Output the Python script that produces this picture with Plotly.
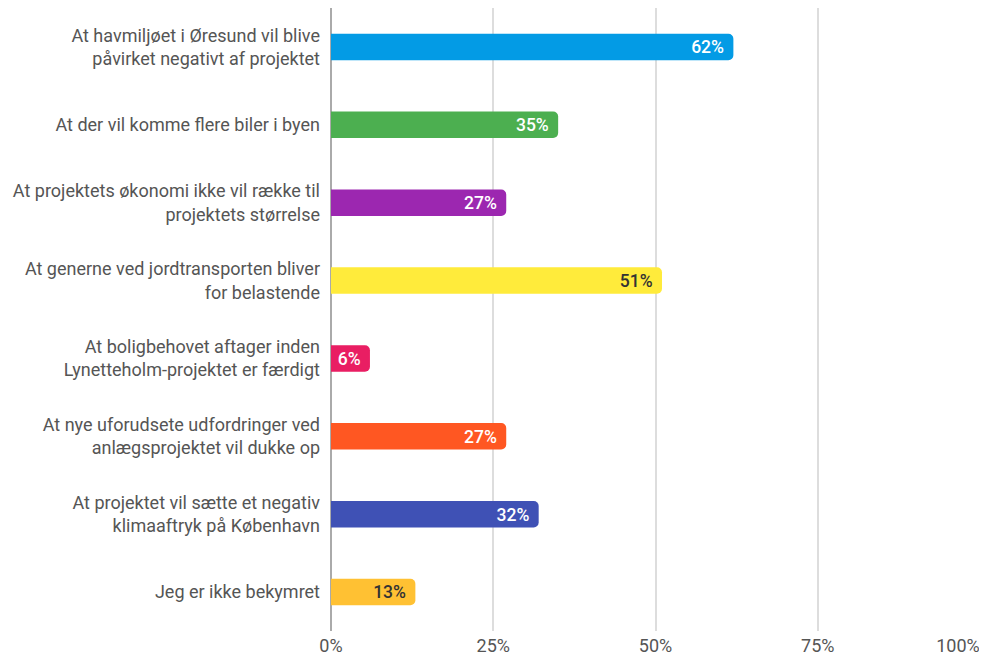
import plotly.graph_objects as go

categories = [
    "At havmiljøet i Øresund vil blive<br>påvirket negativt af projektet",
    "At der vil komme flere biler i byen",
    "At projektets økonomi ikke vil række til<br>projektets størrelse",
    "At generne ved jordtransporten bliver<br>for belastende",
    "At boligbehovet aftager inden<br>Lynetteholm-projektet er færdigt",
    "At nye uforudsete udfordringer ved<br>anlægsprojektet vil dukke op",
    "At projektet vil sætte et negativ<br>klimaaftryk på København",
    "Jeg er ikke bekymret",
]
values = [62, 35, 27, 51, 6, 27, 32, 13]
bar_colors = ["#039BE5", "#4CAF50", "#9C27B0", "#FFEB3B", "#E91E63", "#FF5722", "#3F51B5", "#FFC133"]
text_colors = ["white", "white", "white", "#333333", "white", "white", "white", "#333333"]
x_ticks = [0, 25, 50, 75, 100]
x_tick_labels = ["0%", "25%", "50%", "75%", "100%"]

fig = go.Figure(go.Bar(
    x=values,
    y=categories,
    orientation="h",
    marker=dict(color=bar_colors, cornerradius=5, line=dict(width=0)),
    texttemplate="%{x}%\u00a0",
    textposition="inside",
    insidetextanchor="end",
    textfont=dict(family="Roboto", size=18, color=text_colors, weight=500),
    constraintext="none",
    hoverinfo="skip",
))
# empty trace so the overlay axis carrying the last tick label is drawn
fig.add_trace(go.Scatter(x=[], y=[], xaxis="x2", hoverinfo="skip", showlegend=False))

fig.update_layout(
    width=979, height=651,
    margin=dict(l=323, r=7, t=0, b=28),
    paper_bgcolor="white", plot_bgcolor="white",
    bargap=0.66,
    showlegend=False,
    font=dict(family="Roboto", size=18, color="#555555"),
    xaxis=dict(
        range=[0, 100], tickvals=x_ticks[:-1], ticktext=x_tick_labels[:-1],
        showgrid=True, gridcolor="#DDDDDD", gridwidth=2,
        zeroline=True, zerolinecolor="#AAAAAA", zerolinewidth=2,
        ticks="", tickfont=dict(size=18, color="#555555"),
        ticklabelstandoff=2, automargin=False, fixedrange=True,
    ),
    xaxis2=dict(
        overlaying="x", anchor="y", side="bottom",
        range=[0, 100], tickvals=x_ticks[-1:], ticktext=x_tick_labels[-1:],
        showgrid=True, gridcolor="#DDDDDD", gridwidth=2, zeroline=False,
        ticks="", tickfont=dict(size=18, color="#555555"),
        ticklabelstandoff=2, ticklabelshift=-22, ticklabeloverflow="allow",
        automargin=False, fixedrange=True,
    ),
    yaxis=dict(
        autorange="reversed", ticks="", ticklabelstandoff=10,
        tickfont=dict(size=18, color="#555555"), showline=False,
        automargin=False,
    ),
)

fig.write_html("out.html")
